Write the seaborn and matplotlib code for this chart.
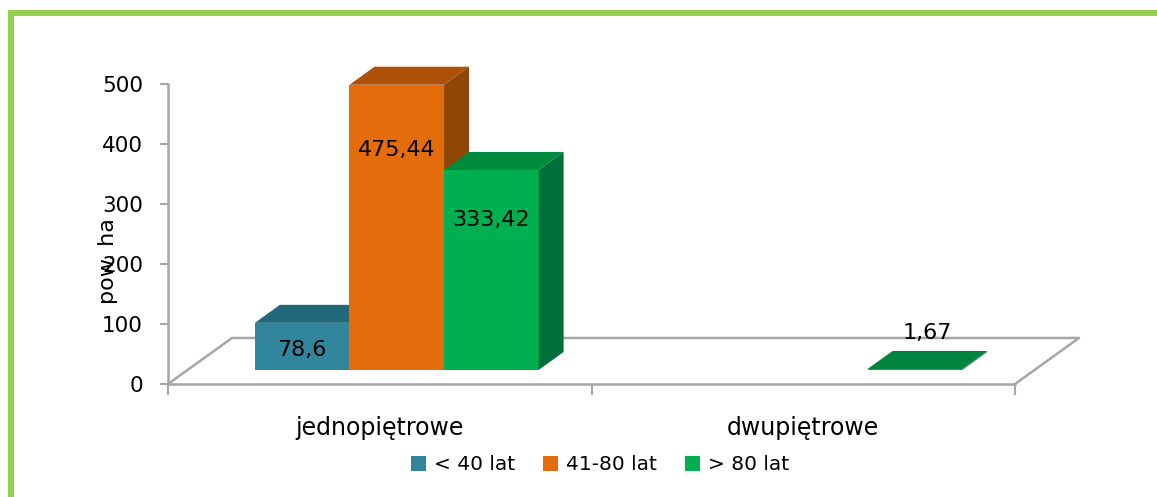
import numpy as np
import pandas as pd
import matplotlib
matplotlib.use("Agg")
import matplotlib.pyplot as plt
from matplotlib.patches import Polygon, Rectangle
import seaborn as sns

# Data
categories = ["jednopiętrowe", "dwupiętrowe"]
age_groups = ["< 40 lat", "41-80 lat", "> 80 lat"]
vals_lt40 = [78.6, np.nan]
vals_41_80 = [475.44, np.nan]
vals_gt80 = [333.42, 1.67]
value_labels = {78.6: "78,6", 475.44: "475,44", 333.42: "333,42", 1.67: "1,67"}

front_cols = ["#31859C", "#E46C0A", "#00B050"]
top_cols = ["#23677A", "#AE5108", "#008A3E"]
side_cols = ["#1E5A6B", "#8F4606", "#00703A"]
grid_col = "#A6A6A6"

df = pd.DataFrame({
    "kat": categories * 3,
    "wiek": [g for g in age_groups for _ in categories],
    "val": vals_lt40 + vals_41_80 + vals_gt80,
})

sns.set_theme(style="white")
plt.rcParams["font.family"] = ["DejaVu Sans"]
plt.rcParams["text.color"] = "black"

W, H = 1157, 497
fig = plt.figure(figsize=(W / 100, H / 100), dpi=100)
ax = fig.add_axes([168 / W, 113 / H, 847 / W, 300 / H])

sns.barplot(data=df, x="kat", y="val", hue="wiek", order=categories,
            hue_order=age_groups, palette=front_cols, width=0.67, saturation=1,
            linewidth=0, ax=ax, legend=False)
ax.set_xlim(-0.5, 1.5)
ax.set_ylim(0, 500)

# pixel -> data unit factors
px_x = 2 / 847
px_y = 500 / 300
shift_x, shift_y = 17 * px_x, 14 * px_y     # bar offset into the floor
dep_x, dep_y = 25 * px_x, 18 * px_y         # bar depth
floor_x, floor_y = 64 * px_x, 46 * px_y     # floor depth

# floor outline
fx = [-0.5, -0.5 + floor_x, 1.5 + floor_x, 1.5]
fy = [0, floor_y, floor_y, 0]
ax.plot(fx, fy, color=grid_col, lw=1.8, clip_on=False, zorder=1)

# fake 3D bars
for i, grp in enumerate(age_groups):
    cont = ax.containers[i]
    for bar, v in zip(cont.patches, cont.datavalues):
        if not np.isfinite(v):
            bar.set_visible(False)
            continue
        x0 = bar.get_x() + shift_x
        w = bar.get_width()
        x1 = x0 + w
        y0 = shift_y
        y1 = shift_y + v
        bar.set_x(x0)
        bar.set_y(y0)
        bar.set_zorder(3 + i)
        bar.set_clip_on(False)
        top = Polygon([(x0, y1), (x0 + dep_x, y1 + dep_y), (x1 + dep_x, y1 + dep_y), (x1, y1)],
                      closed=True, fc=top_cols[i] if v > 5 else "#00843F", ec="none",
                      zorder=3 + i, clip_on=False)
        side = Polygon([(x1, y0), (x1, y1), (x1 + dep_x, y1 + dep_y), (x1 + dep_x, y0 + dep_y)],
                       closed=True, fc=side_cols[i], ec="none", zorder=3 + i, clip_on=False)
        ax.add_patch(side)
        ax.add_patch(top)
        cx = x0 + w / 2
        if v > 400:
            ty = y0 + v * 0.77
        elif v > 200:
            ty = y0 + v * 0.75
        elif v > 30:
            ty = y0 + v * 0.42
        else:
            cx += dep_x / 2
            ty = y1 + 60
        ax.text(cx, ty, value_labels[v], ha="center", va="center", fontsize=16,
                color="black", zorder=10)

# axes styling
for s in ["top", "right"]:
    ax.spines[s].set_visible(False)
for s in ["left", "bottom"]:
    ax.spines[s].set_color(grid_col)
    ax.spines[s].set_linewidth(1.8)
ax.set_yticks([0, 100, 200, 300, 400, 500])
ax.tick_params(axis="y", which="major", left=True, length=6, width=1.5,
               color=grid_col, labelsize=15.5, pad=12, labelcolor="black")
ax.set_xticks([0, 1])
ax.set_xticklabels(categories)
ax.tick_params(axis="x", which="major", length=0, labelsize=17, pad=23, labelcolor="black")
ax.set_xticks([-0.5, 0.5, 1.5], minor=True)
ax.tick_params(axis="x", which="minor", bottom=True, length=8, width=1.5, color=grid_col)
ax.set_xlabel("")
ax.set_ylabel("")
ax.text(-0.071, 0.41, "pow. ha", transform=ax.transAxes, rotation=90,
        ha="center", va="center", fontsize=16, color="black")

# legend
handles = [Rectangle((0, 0), 1, 1, fc=c, ec="none") for c in front_cols]
fig.legend(handles, age_groups, loc="center", bbox_to_anchor=(600 / W, 1 - 465 / H),
           ncol=3, frameon=False, fontsize=14.5, handlelength=0.75, handleheight=0.75,
           handletextpad=0.4, columnspacing=1.4, labelcolor="black")

# green frame
fig.patches.append(Rectangle((11 / W, -0.2), 1.5, (1 - 13 / H) + 0.2, transform=fig.transFigure,
                             fill=False, ec="#92D050", lw=4.3, zorder=0))

fig.savefig("out.png", dpi=100)
